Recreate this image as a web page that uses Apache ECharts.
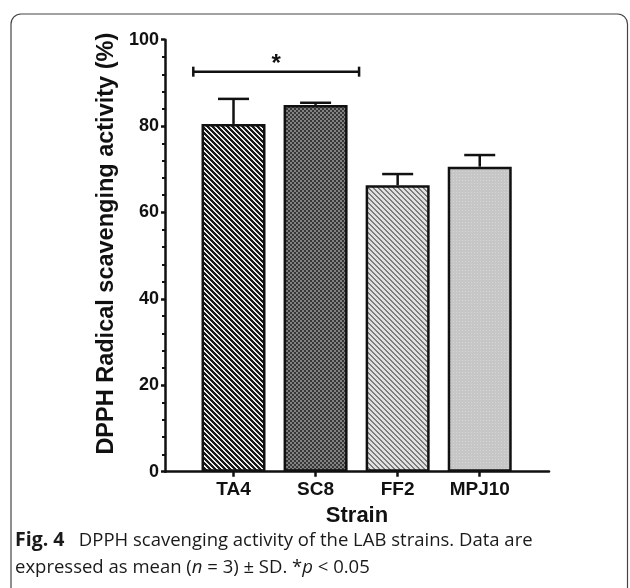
<!DOCTYPE html>
<html>
<head>
<meta charset="utf-8">
<script src="https://cdn.jsdelivr.net/npm/echarts@6/dist/echarts.min.js"></script>
<style>
html,body{margin:0;padding:0;background:#fff;}
#chart{width:630px;height:588px;}
</style>
</head>
<body>
<div id="chart"></div>
<script>
// ---- data ----
var categories = ['TA4', 'SC8', 'FF2', 'MPJ10'];
var means = [80.5, 84.9, 66.3, 70.6];
var sds = [5.8, 0.5, 2.6, 2.7];
var yTicks = [0, 20, 40, 60, 80, 100];
var sigBracket = [-0.49, 1.53, 92.6]; // from, to (category units), y value
var sigLabel = ['*'];
var yTitle = 'DPPH Radical scavenging activity (%)';
var xTitle = 'Strain';
var captionLine1 = ['Fig. 4', 'DPPH scavenging activity of the LAB strains. Data are'];
var captionLine2 = ['expressed as mean (', 'n', ' = 3) ± SD. *', 'p', ' < 0.05'];

// ---- patterns ----
function makeTile(w, h, fn) {
  var c = document.createElement('canvas');
  c.width = w; c.height = h;
  var ctx = c.getContext('2d');
  var img = ctx.createImageData(w, h);
  for (var y = 0; y < h; y++) {
    for (var x = 0; x < w; x++) {
      var v = fn(x, y);
      var i = (y * w + x) * 4;
      img.data[i] = v; img.data[i + 1] = v; img.data[i + 2] = v; img.data[i + 3] = 255;
    }
  }
  ctx.putImageData(img, 0, 0);
  return c;
}
function stripes(dark, light, p, nd) {
  return makeTile(p, p, function (x, y) {
    return (((x - y) % p) + p) % p < nd ? dark : light;
  });
}
var patTA4 = stripes(25, 235, 5, 3);
var patSC8 = makeTile(4, 4, function (x, y) {
  return ((Math.floor(x / 2) + Math.floor(y / 2)) % 2 === 0) ? 130 : 55;
});
var patFF2 = stripes(125, 225, 5, 2);
var patMPJ = makeTile(3, 3, function (x, y) {
  return (x === 0 && y === 0) ? 215 : 198;
});
var patterns = [patTA4, patSC8, patFF2, patMPJ];

var barData = means.map(function (m, i) {
  return { value: [i, m], itemStyle: { color: { image: patterns[i], repeat: 'repeat' } } };
});
var errData = means.map(function (m, i) { return [i, m, sds[i]]; });

var chart = echarts.init(document.getElementById('chart'), null, { renderer: 'canvas' });
var axisFont = 'Liberation Sans, Arial, sans-serif';

chart.setOption({
  animation: false,
  backgroundColor: '#fff',
  grid: { left: 165, right: 81, top: 39.7, bottom: 116.3, outerBoundsMode: 'none', containLabel: false },
  xAxis: {
    type: 'value',
    min: -0.8347,
    max: 3.844,
    name: xTitle,
    nameLocation: 'middle',
    nameGap: 32,
    nameTextStyle: { fontFamily: axisFont, fontWeight: 'bold', fontSize: 22, color: '#111' },
    splitLine: { show: false },
    axisLine: { show: true, onZero: false, lineStyle: { color: '#111', width: 2.5 } },
    axisTick: { show: true, customValues: [0, 1, 2, 3], length: 5, lineStyle: { color: '#111', width: 2.5 } },
    axisLabel: {
      customValues: [0, 1, 2, 3],
      formatter: function (v) { return categories[Math.round(v)]; },
      fontFamily: axisFont, fontWeight: 'bold', fontSize: 19, color: '#111', margin: 9
    }
  },
  yAxis: {
    type: 'value',
    min: 0,
    max: 100,
    interval: 20,
    name: yTitle,
    nameLocation: 'middle',
    nameGap: 46,
    nameTextStyle: { fontFamily: axisFont, fontWeight: 'bold', fontSize: 23.5, color: '#111', padding: [0, 0, 0, 24] },
    splitLine: { show: false },
    axisLine: { show: true, onZero: false, lineStyle: { color: '#111', width: 2.5 } },
    axisTick: { show: true, length: 4, lineStyle: { color: '#111', width: 2.5 } },
    minorTick: { show: true, splitNumber: 5, length: 3, lineStyle: { color: '#111', width: 2 } },
    axisLabel: {
      formatter: function (v) { return yTicks.indexOf(v) >= 0 ? String(v) : ''; },
      fontFamily: axisFont, fontWeight: 'bold', fontSize: 18, color: '#111', margin: 6
    }
  },
  series: [
    {
      type: 'bar',
      barWidth: 64,
      data: barData,
      itemStyle: { borderColor: '#111', borderWidth: 2.5 },
      z: 2
    },
    {
      type: 'custom',
      z: 3,
      data: errData,
      renderItem: function (params, api) {
        var x = api.value(0), m = api.value(1), s = api.value(2);
        var base = api.coord([x, m]);
        var top = api.coord([x, m + s]);
        var hw = 15.5;
        var st = { stroke: '#111', lineWidth: 2.5 };
        return {
          type: 'group',
          children: [
            { type: 'line', shape: { x1: base[0], y1: base[1], x2: top[0], y2: top[1] }, style: st },
            { type: 'line', shape: { x1: top[0] - hw, y1: top[1], x2: top[0] + hw, y2: top[1] }, style: st }
          ]
        };
      }
    },
    {
      type: 'custom',
      z: 3,
      data: [sigBracket],
      renderItem: function (params, api) {
        var a = api.coord([api.value(0), api.value(2)]);
        var b = api.coord([api.value(1), api.value(2)]);
        var st = { stroke: '#111', lineWidth: 2.5 };
        var cap = 5;
        return {
          type: 'group',
          children: [
            { type: 'line', shape: { x1: a[0], y1: a[1], x2: b[0], y2: b[1] }, style: st },
            { type: 'line', shape: { x1: a[0], y1: a[1] - cap, x2: a[0], y2: a[1] + cap }, style: st },
            { type: 'line', shape: { x1: b[0], y1: b[1] - cap, x2: b[0], y2: b[1] + cap }, style: st },
            {
              type: 'text',
              style: {
                x: (a[0] + b[0]) / 2, y: a[1] + 5,
                text: sigLabel[0], fill: '#111',
                font: 'bold 24px Liberation Sans, Arial, sans-serif',
                align: 'center', verticalAlign: 'bottom'
              }
            }
          ]
        };
      }
    }
  ],
  graphic: [
    {
      type: 'rect',
      shape: { x: 11, y: 14, width: 616.5, height: 600, r: 10 },
      style: { fill: 'none', stroke: '#444', lineWidth: 1.2 },
      silent: true
    },
    {
      type: 'text',
      left: 15,
      top: 527,
      style: {
        text: '{b|' + captionLine1[0] + '}   ' + captionLine1[1] + '\n' +
              captionLine2[0] + '{i|' + captionLine2[1] + '}' + captionLine2[2] + '{i|' + captionLine2[3] + '}' + captionLine2[4],
        font: '18.5px "Open Sans", sans-serif',
        fill: '#1a1a1a',
        lineHeight: 27,
        rich: {
          b: { fontFamily: 'Open Sans', fontWeight: 'bold', fontSize: 19.5, fill: '#1a1a1a', lineHeight: 27 },
          i: { fontFamily: 'Open Sans', fontStyle: 'italic', fontSize: 18.5, fill: '#1a1a1a', lineHeight: 27 }
        }
      }
    }
  ]
});
</script>
</body>
</html>
